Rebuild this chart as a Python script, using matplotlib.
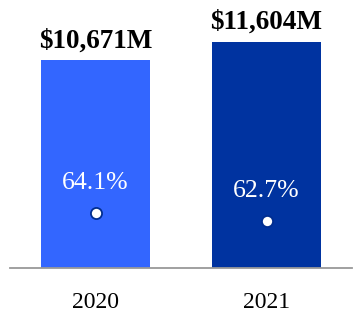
import matplotlib
matplotlib.use("Agg")
import matplotlib.pyplot as plt

years = ["2020", "2021"]
revenue = [10671, 11604]          # $M
margin = [64.1, 62.7]             # %
revenue_labels = ["$10,671M", "$11,604M"]
margin_labels = ["64.1%", "62.7%"]
bar_colors = ["#3366FF", "#0033A0"]

plt.rcParams["font.family"] = ["Liberation Serif", "DejaVu Serif"]

fig = plt.figure(figsize=(3.62, 3.24), dpi=100)
ax = fig.add_axes([10 / 362, 56 / 324, 342 / 362, 268 / 324])

x = list(range(len(years)))
bars = ax.bar(x, revenue, width=0.643, color=bar_colors, zorder=2)
ax.set_xlim(-0.5, 1.5)
ax.set_ylim(0, 13760)

for xi, v, lab in zip(x, revenue, revenue_labels):
    ax.annotate(lab, (xi, v), xytext=(0, 14), textcoords="offset points",
                ha="center", va="center", fontsize=19.5, fontweight="bold")

# percentages on a secondary scale
ax2 = ax.twinx()
ax2.set_ylim(54.5, 101.4)
ax2.plot(x, margin, linestyle="none", marker="o", markersize=8,
         markerfacecolor="white", markeredgecolor="#002D8F",
         markeredgewidth=1.3, zorder=3)
for xi, m, lab in zip(x, margin, margin_labels):
    ax2.annotate(lab, (xi, m), xytext=(0, 22), textcoords="offset points",
                 ha="center", va="center", fontsize=18.5, color="white")

for a in (ax, ax2):
    for side in ("top", "right", "left"):
        a.spines[side].set_visible(False)
    a.set_yticks([])
ax2.spines["bottom"].set_visible(False)
ax.spines["bottom"].set_color("#999999")
ax.spines["bottom"].set_linewidth(1.3)

ax.set_xticks(x)
ax.set_xticklabels(years, fontsize=17)
ax.tick_params(axis="x", length=0, pad=17)

fig.savefig("out.png", dpi=100)
